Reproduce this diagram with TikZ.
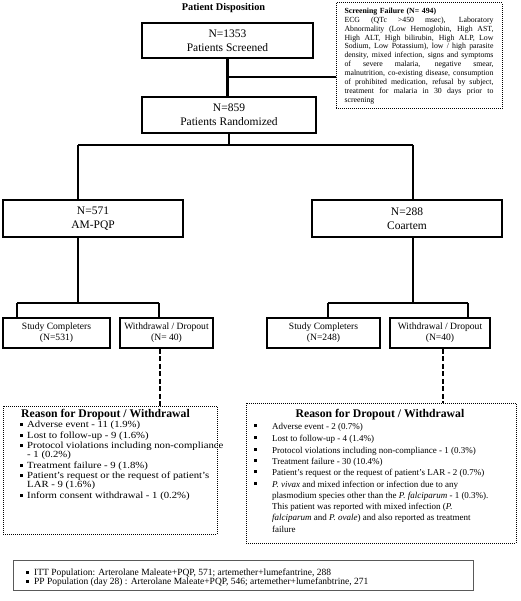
\documentclass[tikz,border=0pt]{standalone}
\usepackage{fontspec}
\usepackage{graphicx}
\setmainfont{Liberation Serif}
\usetikzlibrary{calc}
\newcommand\bsq{\rule[0.2em]{0.32em}{0.32em}}
\newcommand\sfw{149pt}
\newcommand\jline[1]{\makebox[\sfw][s]{\spaceskip=0pt\xspaceskip=0pt #1}}
\newcommand\wide[1]{\scalebox{1.14}[1]{#1}}
\begin{document}
\begin{tikzpicture}[x=1pt,y=-1pt,
  mainbox/.style={draw, line width=2pt, inner sep=0pt, align=center, font=\fontsize{11.5}{14}\selectfont},
  subbox/.style={draw, line width=1.8pt, inner sep=0pt, align=center, font=\fontsize{9.6}{11}\selectfont},
  dotbox/.style={draw, line width=1pt, dash pattern=on 1pt off 1pt, inner sep=0pt},
  conn/.style={line width=1.6pt},
  thickconn/.style={line width=2.2pt},
  dashconn/.style={line width=2.6pt, dash pattern=on 5pt off 2.5pt},
  ltext/.style={anchor=base west, inner sep=0pt, font=\fontsize{9.4}{11}\selectfont},
  rtext/.style={anchor=base west, inner sep=0pt, font=\fontsize{9.0}{10}\selectfont},
  btext/.style={anchor=base west, inner sep=0pt, font=\fontsize{9.5}{10}\selectfont},
  rtitle/.style={anchor=base, inner sep=0pt, font=\bfseries\fontsize{11.7}{13}\selectfont},
]
\fill[white] (0,0) rectangle (520,601);
\useasboundingbox (0,0) rectangle (520,601);

\node[anchor=base, inner sep=0pt, font=\bfseries\fontsize{10.3}{12}\selectfont] (title) at (223.5,10.5) {Patient Disposition};

\node[mainbox, minimum width=171pt, minimum height=35pt] (scr) at (227.5,40.5) {N=1353\\Patients Screened};
\node[mainbox, minimum width=174pt, minimum height=36pt] (rnd) at (229,115) {N=859\\Patients Randomized};

\node[dotbox, minimum width=166pt, minimum height=106pt, text width=\sfw, align=left, font=\fontsize{7.8}{8.9}\selectfont] (sf) at (419,56) {%
{\bfseries Screening Failure (N= 494)}\\
\jline{ECG (QTc >450 msec), Laboratory}\\
\jline{Abnormality (Low Hemoglobin, High AST,}\\
\jline{High ALT, High bilirubin, High ALP, Low}\\
\jline{Sodium, Low Potassium), low / high parasite}\\
\jline{density, mixed infection, signs and symptoms}\\
\jline{of severe malaria, negative smear,}\\
\jline{malnutrition, co-existing disease, consumption}\\
\jline{of prohibited medication, refusal by subject,}\\
\jline{treatment for malaria in 30 days prior to}\\
screening};

\coordinate (j1) at (227.5,77);
\draw[thickconn] (scr.south) -- (scr.south |- rnd.north);
\draw[conn] (j1) -- (j1 -| sf.west);

\coordinate (b0) at (229,145);
\coordinate (bl) at (78,145);
\coordinate (br) at (413,145);
\draw[conn] (rnd.south) -- (b0);
\draw[conn] (bl) -- (br);

\node[mainbox, minimum width=180pt, minimum height=37pt] (amp) at (93,218.5) {N=571\\AM-PQP};
\node[mainbox, minimum width=190pt, minimum height=37pt] (coa) at (407,218.5) {N=288\\Coartem};
\draw[conn] (bl) -- (bl |- amp.north);
\draw[conn] (br) -- (br |- coa.north);

\coordinate (cl) at (78,303);
\coordinate (cl1) at (17,303);
\coordinate (cl2) at (159,303);
\coordinate (cr) at (413,303);
\coordinate (cr1) at (328,303);
\coordinate (cr2) at (468,303);
\draw[conn] (bl |- amp.south) -- (cl);
\draw[conn] (br |- coa.south) -- (cr);
\draw[conn] (cl1) -- (cl2);
\draw[conn] (cr1) -- (cr2);

\node[subbox, minimum width=107pt, minimum height=30pt] (scl) at (56.5,333) {Study Completers\\(N=531)};
\node[subbox, minimum width=93pt, minimum height=30pt] (wdl) at (166.5,333) {Withdrawal / Dropout\\(N= 40)};
\node[subbox, minimum width=113pt, minimum height=30pt] (scr2) at (323.5,333) {Study Completers\\(N=248)};
\node[subbox, minimum width=100pt, minimum height=30pt] (wdr) at (440,333) {Withdrawal / Dropout\\(N=40)};
\draw[conn] (cl1) -- (cl1 |- scl.north);
\draw[conn] (cl2) -- (cl2 |- wdl.north);
\draw[conn] (cr1) -- (cr1 |- scr2.north);
\draw[conn] (cr2) -- (cr2 |- wdr.north);

\node[dotbox, minimum width=214pt, minimum height=128pt] (rsl) at (110,470) {};
\node[dotbox, minimum width=270pt, minimum height=140pt] (rsr) at (381,473) {};
\draw[dashconn] ([xshift=-6.5pt]wdl.south) -- ([xshift=-6.5pt]wdl.south |- rsl.north);
\draw[dashconn] ([xshift=3pt]wdr.south) -- ([xshift=3pt]wdr.south |- rsr.north);

\node[rtitle] (lt) at (105.5,417.5) {Reason for Dropout / Withdrawal};
\node[ltext] (l1) at (19.5,427.5) {\wide{\makebox[6.6pt][l]{\bsq}Adverse event - 11 (1.9\%)}};
\node[ltext] (l2) at (19.5,438.5) {\wide{\makebox[6.6pt][l]{\bsq}Lost to follow-up - 9 (1.6\%)}};
\node[ltext] (l3) at (19.5,448.5) {\wide{\makebox[6.6pt][l]{\bsq}Protocol violations including non-compliance}};
\node[ltext] (l4) at (19.5,457.5) {\wide{\hspace*{6.6pt}- 1 (0.2\%)}};
\node[ltext] (l5) at (19.5,468.5) {\wide{\makebox[6.6pt][l]{\bsq}Treatment failure - 9 (1.8\%)}};
\node[ltext] (l6) at (19.5,478.5) {\wide{\makebox[6.6pt][l]{\bsq}Patient's request or the request of patient's}};
\node[ltext] (l7) at (19.5,487.5) {\wide{\hspace*{6.6pt}LAR - 9 (1.6\%)}};
\node[ltext] (l8) at (19.5,498.5) {\wide{\makebox[6.6pt][l]{\bsq}Inform consent withdrawal - 1 (0.2\%)}};

\node[rtitle] (rt) at (380,417) {Reason for Dropout / Withdrawal};
\node[rtext] (r1) at (253.5,429) {\makebox[18.5pt][l]{\bsq}Adverse event - 2 (0.7\%)};
\node[rtext] (r2) at (253.5,441) {\makebox[18.5pt][l]{\bsq}Lost to follow-up - 4 (1.4\%)};
\node[rtext] (r3) at (253.5,453) {\makebox[18.5pt][l]{\bsq}Protocol violations including non-compliance - 1 (0.3\%)};
\node[rtext] (r4) at (253.5,464) {\makebox[18.5pt][l]{\bsq}Treatment failure - 30 (10.4\%)};
\node[rtext] (r5) at (253.5,475) {\makebox[18.5pt][l]{\bsq}Patient's request or the request of patient's LAR - 2 (0.7\%)};
\node[rtext] (r6) at (253.5,487) {\makebox[18.5pt][l]{\bsq}\textit{P. vivax} and mixed infection or infection due to any};
\node[rtext] (r7) at (253.5,498) {\hspace*{18.5pt}plasmodium species other than the \textit{P. falciparum} - 1 (0.3\%).};
\node[rtext] (r8) at (253.5,509) {\hspace*{18.5pt}This patient was reported with mixed infection (\textit{P.}};
\node[rtext] (r9) at (253.5,520) {\hspace*{18.5pt}\textit{falciparum} and \textit{P. ovale}) and also reported as treatment};
\node[rtext] (r10) at (253.5,532) {\hspace*{18.5pt}failure};

\node[draw=black!65, line width=0.8pt, minimum width=460pt, minimum height=30pt, inner sep=0pt] (pop) at (243,575) {};
\node[btext] (p1) at (25.5,575.5) {\makebox[8.5pt][l]{\bsq}ITT Population: Arterolane Maleate+PQP, 571; artemether+lumefantrine, 288};
\node[btext] (p2) at (25.5,584.5) {\makebox[8.5pt][l]{\bsq}PP Population (day 28) : Arterolane Maleate+PQP, 546; artemether+lumefanbtrine, 271};
\end{tikzpicture}
\end{document}
